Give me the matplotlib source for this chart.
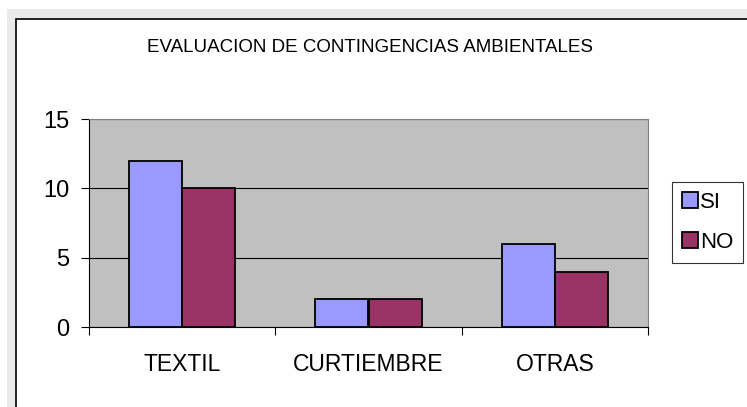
import matplotlib
matplotlib.use("Agg")
import matplotlib.pyplot as plt
from matplotlib.patches import Rectangle
import numpy as np

plt.rcParams['font.family'] = ['Liberation Sans', 'DejaVu Sans']

categories = ['TEXTIL', 'CURTIEMBRE', 'OTRAS']
si_values = [12, 2, 6]
no_values = [10, 2, 4]
series_names = ['SI', 'NO']
yticks = [0, 5, 10, 15]

W, H = 747, 407
fig = plt.figure(figsize=(W / 100, H / 100), dpi=100)
fig.patch.set_facecolor('white')

# outer grey frame and white chart area
fig.patches.append(Rectangle((7 / W, -0.1), 1.2, 1.1 - 9 / H, transform=fig.transFigure,
                             facecolor='#EAEAEA', edgecolor='none', zorder=0))
fig.patches.append(Rectangle((16 / W, -0.1), 1.2, 1.1 - 19 / H, transform=fig.transFigure,
                             facecolor='white', edgecolor='black', linewidth=1.2, zorder=1))

ax = fig.add_axes([89 / W, (H - 327) / H, (648 - 89) / W, (327 - 119) / H])
ax.set_zorder(5)
ax.set_facecolor('#C0C0C0')

x = np.arange(len(categories))
bw = 0.285
ax.bar(x - bw / 2, si_values, bw, color='#9999FF', edgecolor='black', linewidth=1.3,
       label=series_names[0], zorder=3)
ax.bar(x + bw / 2, no_values, bw, color='#993366', edgecolor='black', linewidth=1.3,
       label=series_names[1], zorder=3)

ax.set_xlim(-0.5, len(categories) - 0.5)
ax.set_ylim(0, 15)
ax.set_yticks(yticks)
ax.yaxis.grid(True, color='black', linewidth=0.8, zorder=1)
ax.set_axisbelow(True)

for side in ['top', 'right']:
    ax.spines[side].set_color('#808080')
ax.spines['left'].set_color('black')
ax.spines['bottom'].set_color('black')
for s in ax.spines.values():
    s.set_linewidth(0.8)
    s.set_zorder(4)

ax.set_xticks(np.arange(len(categories) + 1) - 0.5)
ax.set_xticklabels([])
ax.set_xticks(x, minor=True)
ax.set_xticklabels(categories, minor=True)
ax.tick_params(axis='x', which='major', direction='out', length=6, width=0.8)
ax.tick_params(axis='x', which='minor', length=0, pad=19, labelsize=16.5)
ax.tick_params(axis='y', direction='out', length=6, width=0.8, pad=8, labelsize=17)

fig.text(370 / W, 1 - 47 / H, 'EVALUACION DE CONTINGENCIAS AMBIENTALES',
         ha='center', va='center', fontsize=13.5)

leg = fig.legend(loc='upper left', bbox_to_anchor=(672 / W, 1 - 182 / H),
                 fontsize=16, frameon=True, fancybox=False, handlelength=0.7,
                 handleheight=0.7, handletextpad=0.1, labelspacing=0.85,
                 borderpad=0.45, borderaxespad=0)
leg.set_zorder(6)
leg.get_frame().set_edgecolor('black')
leg.get_frame().set_linewidth(0.8)

fig.savefig('out.png', dpi=100)
